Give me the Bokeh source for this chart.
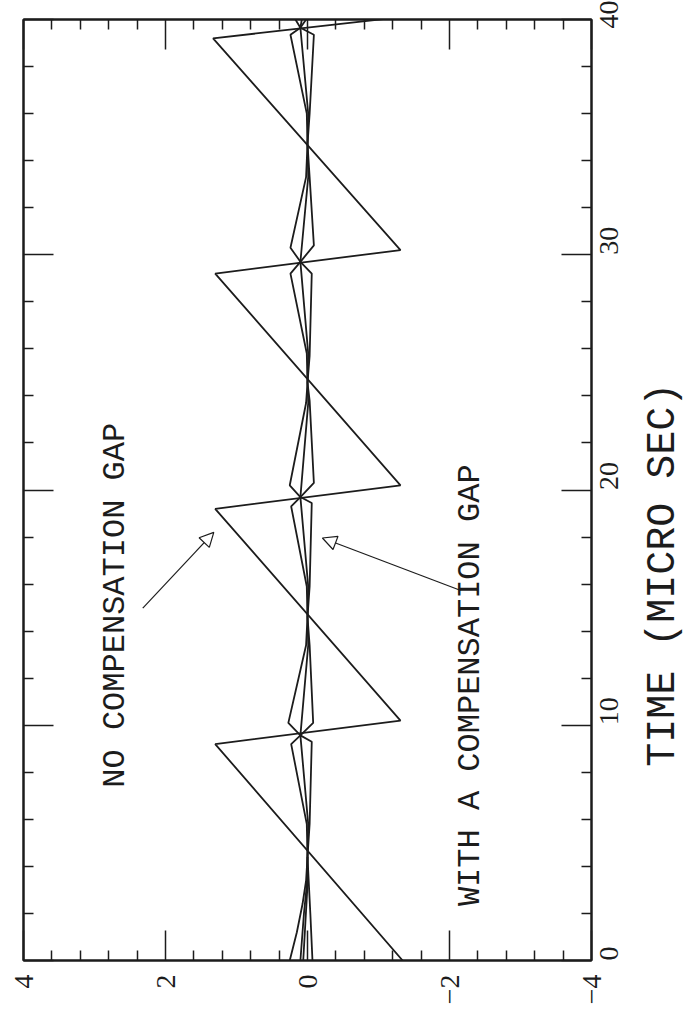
import math
from bokeh.plotting import figure
from bokeh.layouts import row
from bokeh.models import (Range1d, LinearAxis, FixedTicker, Label, Arrow,
                          NormalHead)
from bokeh.embed import file_html
from bokeh.resources import INLINE

# ---------------- data ----------------
time_ticks = [0, 10, 20, 30, 40]
time_minor = [2, 4, 6, 8, 12, 14, 16, 18, 22, 24, 26, 28, 32, 34, 36, 38]
value_ticks = [-4, -2, 0, 2, 4]
value_minor = [-3.6, -3.2, -2.8, -2.4, -1.6, -1.2, -0.8, -0.4,
               0.4, 0.8, 1.2, 1.6, 2.4, 2.8, 3.2, 3.6]
value_labels = {-4: "\u22124", -2: "\u22122", 0: "0", 2: "2", 4: "4"}
time_labels = {0: "0", 10: "10", 20: "20", 30: "30", 40: "40"}
time_title = "TIME (MICRO SEC)"

# no compensation gap (sawtooth)
saw_t = [0.0, 9.2, 10.2, 19.2, 20.2, 29.2, 30.2, 39.2, 40.1]
saw_v = [-1.34, 1.30, -1.31, 1.30, -1.31, 1.30, -1.31, 1.33, -1.31]

# with a compensation gap (traces)
compA_t = [0.0, 1.2, 2.4, 3.4, 4.4, 5.8, 9.2, 9.57, 10.1, 13.4, 14.6, 15.9,
           19.3, 19.7, 20.2, 23.7, 24.55, 25.8, 29.2, 29.7, 30.3, 33.3, 34.7,
           36.0, 39.35, 39.65, 40.0]
compA_v = [0.25, 0.15, 0.07, 0.02, 0.0, 0.01, 0.23, 0.10, 0.27, 0.02, 0.0,
           0.01, 0.23, 0.10, 0.25, 0.02, 0.0, 0.01, 0.24, 0.10, 0.24, 0.02,
           0.0, 0.01, 0.24, 0.10, 0.17]

compB_t = [0.0, 2.0, 4.4, 5.8, 9.3, 9.57, 10.1, 13.4, 14.6, 15.9, 19.45,
           19.7, 20.3, 23.8, 24.55, 25.7, 29.2, 29.7, 30.4, 33.3, 34.7, 36.0,
           39.35, 39.65, 40.0]
compB_v = [-0.07, -0.04, 0.0, -0.03, -0.06, 0.10, -0.08, -0.03, 0.0, -0.03,
           -0.06, 0.10, -0.09, -0.03, 0.0, -0.03, -0.06, 0.10, -0.09, -0.03,
           0.0, -0.03, -0.09, 0.10, 0.02]

compC_t = [0.0, 2.0, 3.2, 4.4, 5.8, 9.57, 13.4, 14.6, 15.9, 19.7, 23.7,
           24.55, 25.8, 29.7, 33.3, 34.7, 36.0, 39.65, 40.0]
compC_v = [0.10, 0.05, 0.01, 0.0, -0.01, 0.10, -0.01, 0.0, -0.01, 0.10,
           -0.01, 0.0, -0.01, 0.10, -0.01, 0.0, -0.01, 0.10, 0.08]

compD_t = [0.0, 1.6, 3.2, 4.4]
compD_v = [0.06, 0.03, 0.0, 0.0]

# ---------------- layout / styles ----------------
TICK_FONT = "Liberation Serif"
TEXT_FONT = "Liberation Mono"
INK = "#1c1c1c"
H = 1010
TOP, BOTTOM = 19, 50
MAIN_W = 640
SIDE_W = 685 - MAIN_W
BLANK = {v: "" for v in value_ticks}
BLANK_T = {v: "" for v in time_ticks}


def style_axis(ax, labels=None, standoff=12):
    ax.axis_line_color = INK
    ax.axis_line_width = 2
    ax.major_tick_in = 30
    ax.major_tick_out = 0
    ax.minor_tick_in = 10
    ax.minor_tick_out = 0
    ax.major_tick_line_color = INK
    ax.minor_tick_line_color = INK
    ax.major_tick_line_width = 1.5
    ax.minor_tick_line_width = 1.5
    ax.major_label_text_font = TICK_FONT
    ax.major_label_text_font_size = "28px"
    ax.major_label_text_color = INK
    ax.major_label_orientation = math.pi / 2
    ax.major_label_standoff = standoff
    ax.major_label_overrides = labels


# ---------------- main figure ----------------
y_range = Range1d(0, 40)
p = figure(width=MAIN_W, height=H,
           x_range=Range1d(4, -4), y_range=y_range,
           output_backend="svg", toolbar_location=None,
           y_axis_location="right",
           min_border_left=23, min_border_top=TOP,
           min_border_right=MAIN_W - 591, min_border_bottom=BOTTOM)
p.grid.visible = False
p.outline_line_color = INK
p.outline_line_width = 2
p.background_fill_color = "white"
p.border_fill_color = "white"

p.xaxis.ticker = FixedTicker(ticks=value_ticks, minor_ticks=value_minor)
p.yaxis.ticker = FixedTicker(ticks=time_ticks, minor_ticks=time_minor)
style_axis(p.xaxis[0], value_labels, standoff=14)
style_axis(p.yaxis[0], time_labels, standoff=17)

top_ax = LinearAxis(ticker=FixedTicker(ticks=value_ticks, minor_ticks=value_minor))
style_axis(top_ax, BLANK, standoff=0)
top_ax.major_label_orientation = "horizontal"
top_ax.major_label_text_font_size = "8px"
p.add_layout(top_ax, "above")
left_ax = LinearAxis(ticker=FixedTicker(ticks=time_ticks, minor_ticks=time_minor))
style_axis(left_ax, BLANK_T, standoff=0)
left_ax.major_label_orientation = "horizontal"
p.add_layout(left_ax, "left")

p.line(saw_v, saw_t, line_color=INK, line_width=1.8)
for tv, vv in ((compA_t, compA_v), (compB_t, compB_v),
               (compC_t, compC_v), (compD_t, compD_v)):
    p.line(vv, tv, line_color=INK, line_width=1.8)

p.add_layout(Label(x=2.70, y=15.1, text="NO COMPENSATION GAP",
                   angle=math.pi / 2, text_align="center",
                   text_baseline="middle", text_font=TEXT_FONT,
                   text_font_size="32px", text_color=INK))
p.add_layout(Label(x=-2.30, y=11.7, text="WITH A COMPENSATION GAP",
                   angle=math.pi / 2, text_align="center",
                   text_baseline="middle", text_font=TEXT_FONT,
                   text_font_size="32px", text_color=INK))
p.add_layout(Arrow(end=NormalHead(size=14, fill_color="white",
                                  line_color=INK, line_width=1.2),
                   x_start=2.32, y_start=14.98, x_end=1.32, y_end=18.2,
                   line_color=INK, line_width=1.2))
p.add_layout(Arrow(end=NormalHead(size=14, fill_color="white",
                                  line_color=INK, line_width=1.2),
                   x_start=-2.15, y_start=15.74, x_end=-0.21, y_end=17.96,
                   line_color=INK, line_width=1.2))

# ---------------- side panel: axis title ----------------
p2 = figure(width=SIDE_W, height=H,
            x_range=Range1d(0, SIDE_W), y_range=y_range,
            output_backend="svg", toolbar_location=None,
            x_axis_location=None, y_axis_location=None,
            min_border_left=0, min_border_right=0,
            min_border_top=TOP, min_border_bottom=BOTTOM)
p2.grid.visible = False
p2.outline_line_color = None
p2.background_fill_color = "white"
p2.border_fill_color = "white"
p2.add_layout(Label(x=SIDE_W / 2, y=16.4, text=time_title,
                    angle=math.pi / 2, text_align="center",
                    text_baseline="middle", text_font=TEXT_FONT,
                    text_font_size="40px", text_color=INK))

layout = row(p, p2, spacing=0)
open("out.html", "w").write(file_html(layout, INLINE))
